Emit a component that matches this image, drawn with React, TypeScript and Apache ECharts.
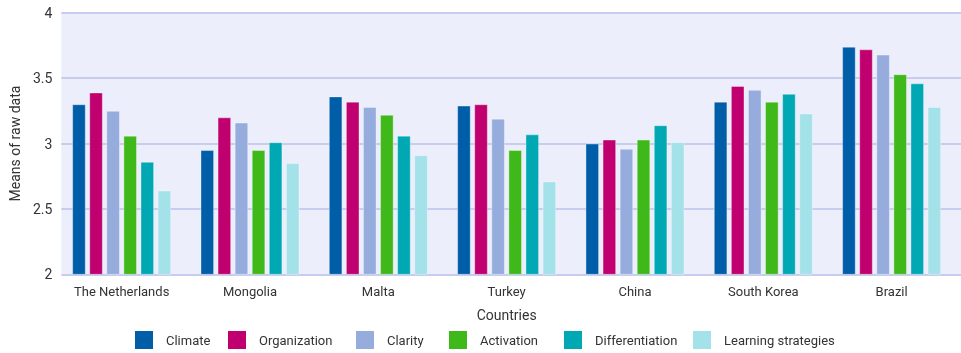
import React, { useEffect, useRef } from "react";
import * as echarts from "echarts";

const countries = ["The Netherlands", "Mongolia", "Malta", "Turkey", "China", "South Korea", "Brazil"];
const seriesNames = ["Climate", "Organization", "Clarity", "Activation", "Differentiation", "Learning strategies"];
const colors = ["#005EA8", "#C0006E", "#96ACDD", "#3FB81A", "#00A8B4", "#A2E2E8"];

const climate = [3.30, 2.95, 3.36, 3.29, 3.00, 3.32, 3.74];
const organization = [3.39, 3.20, 3.32, 3.30, 3.03, 3.44, 3.72];
const clarity = [3.25, 3.16, 3.28, 3.19, 2.96, 3.41, 3.68];
const activation = [3.06, 2.95, 3.22, 2.95, 3.03, 3.32, 3.53];
const differentiation = [2.86, 3.01, 3.06, 3.07, 3.14, 3.38, 3.46];
const learningStrategies = [2.64, 2.85, 2.91, 2.71, 3.01, 3.23, 3.28];

const yTicks = { min: 2, max: 4, interval: 0.5 };

const FONT = "Roboto";
const TEXT = "#333333";
const legendLefts = [135, 228, 356, 449, 564, 693];

export default function App() {
  const ref = useRef<HTMLDivElement>(null);
  useEffect(() => {
    if (!ref.current) return;
    const chart = echarts.init(ref.current, null, { renderer: "svg" });
    const allValues = [climate, organization, clarity, activation, differentiation, learningStrategies];
    const top = 12.7;
    const bottom = 78.7;
    chart.setOption({
      animation: false,
      textStyle: { fontFamily: FONT },
      grid: [
        { left: 52, right: 0, top, bottom, show: true, backgroundColor: "#ECEEFB", borderWidth: 0 },
        { left: 57.5, right: 5.2, top, bottom },
      ],
      xAxis: [
        { gridIndex: 0, type: "value", show: false, min: 0, max: 1 },
        {
          gridIndex: 1,
          type: "category",
          data: countries,
          axisLine: { show: false },
          axisTick: { show: false },
          axisLabel: { color: TEXT, fontSize: 13, fontFamily: FONT, margin: 11, interval: 0 },
          name: "Countries",
          nameLocation: "middle",
          nameGap: 34,
          nameTextStyle: { color: TEXT, fontSize: 14, fontFamily: FONT },
        },
      ],
      yAxis: [
        {
          gridIndex: 0,
          type: "value",
          min: yTicks.min,
          max: yTicks.max,
          interval: yTicks.interval,
          axisLine: { show: false },
          axisTick: { show: false },
          axisLabel: { color: TEXT, fontSize: 14, fontFamily: FONT, margin: 9 },
          splitLine: { show: true, lineStyle: { color: "#C6CDEF", width: 2 } },
          name: "Means of raw data",
          nameLocation: "middle",
          nameGap: 32,
          nameTextStyle: { color: TEXT, fontSize: 14, fontFamily: FONT },
        },
        { gridIndex: 1, type: "value", min: yTicks.min, max: yTicks.max, show: false },
      ],
      legend: seriesNames.map((name, i) => ({
        left: legendLefts[i],
        top: 331,
        padding: 0,
        itemWidth: 18,
        itemHeight: 18,
        icon: "rect",
        data: [name],
        itemStyle: { borderWidth: 0 },
        textStyle: { color: TEXT, fontSize: 13, fontFamily: FONT, padding: [0, 0, 0, 8] },
      })),
      series: seriesNames.map((name, i) => ({
        name,
        type: "bar",
        xAxisIndex: 1,
        yAxisIndex: 1,
        data: allValues[i],
        barWidth: 13.6,
        barGap: "25.6%",
        itemStyle: { color: colors[i], borderColor: "rgba(255,255,255,0.35)", borderWidth: 1 },
      })),
    });
    return () => chart.dispose();
  }, []);
  return <div ref={ref} style={{ position: "fixed", left: 0, top: 0, width: 961, height: 353 }} />;
}
